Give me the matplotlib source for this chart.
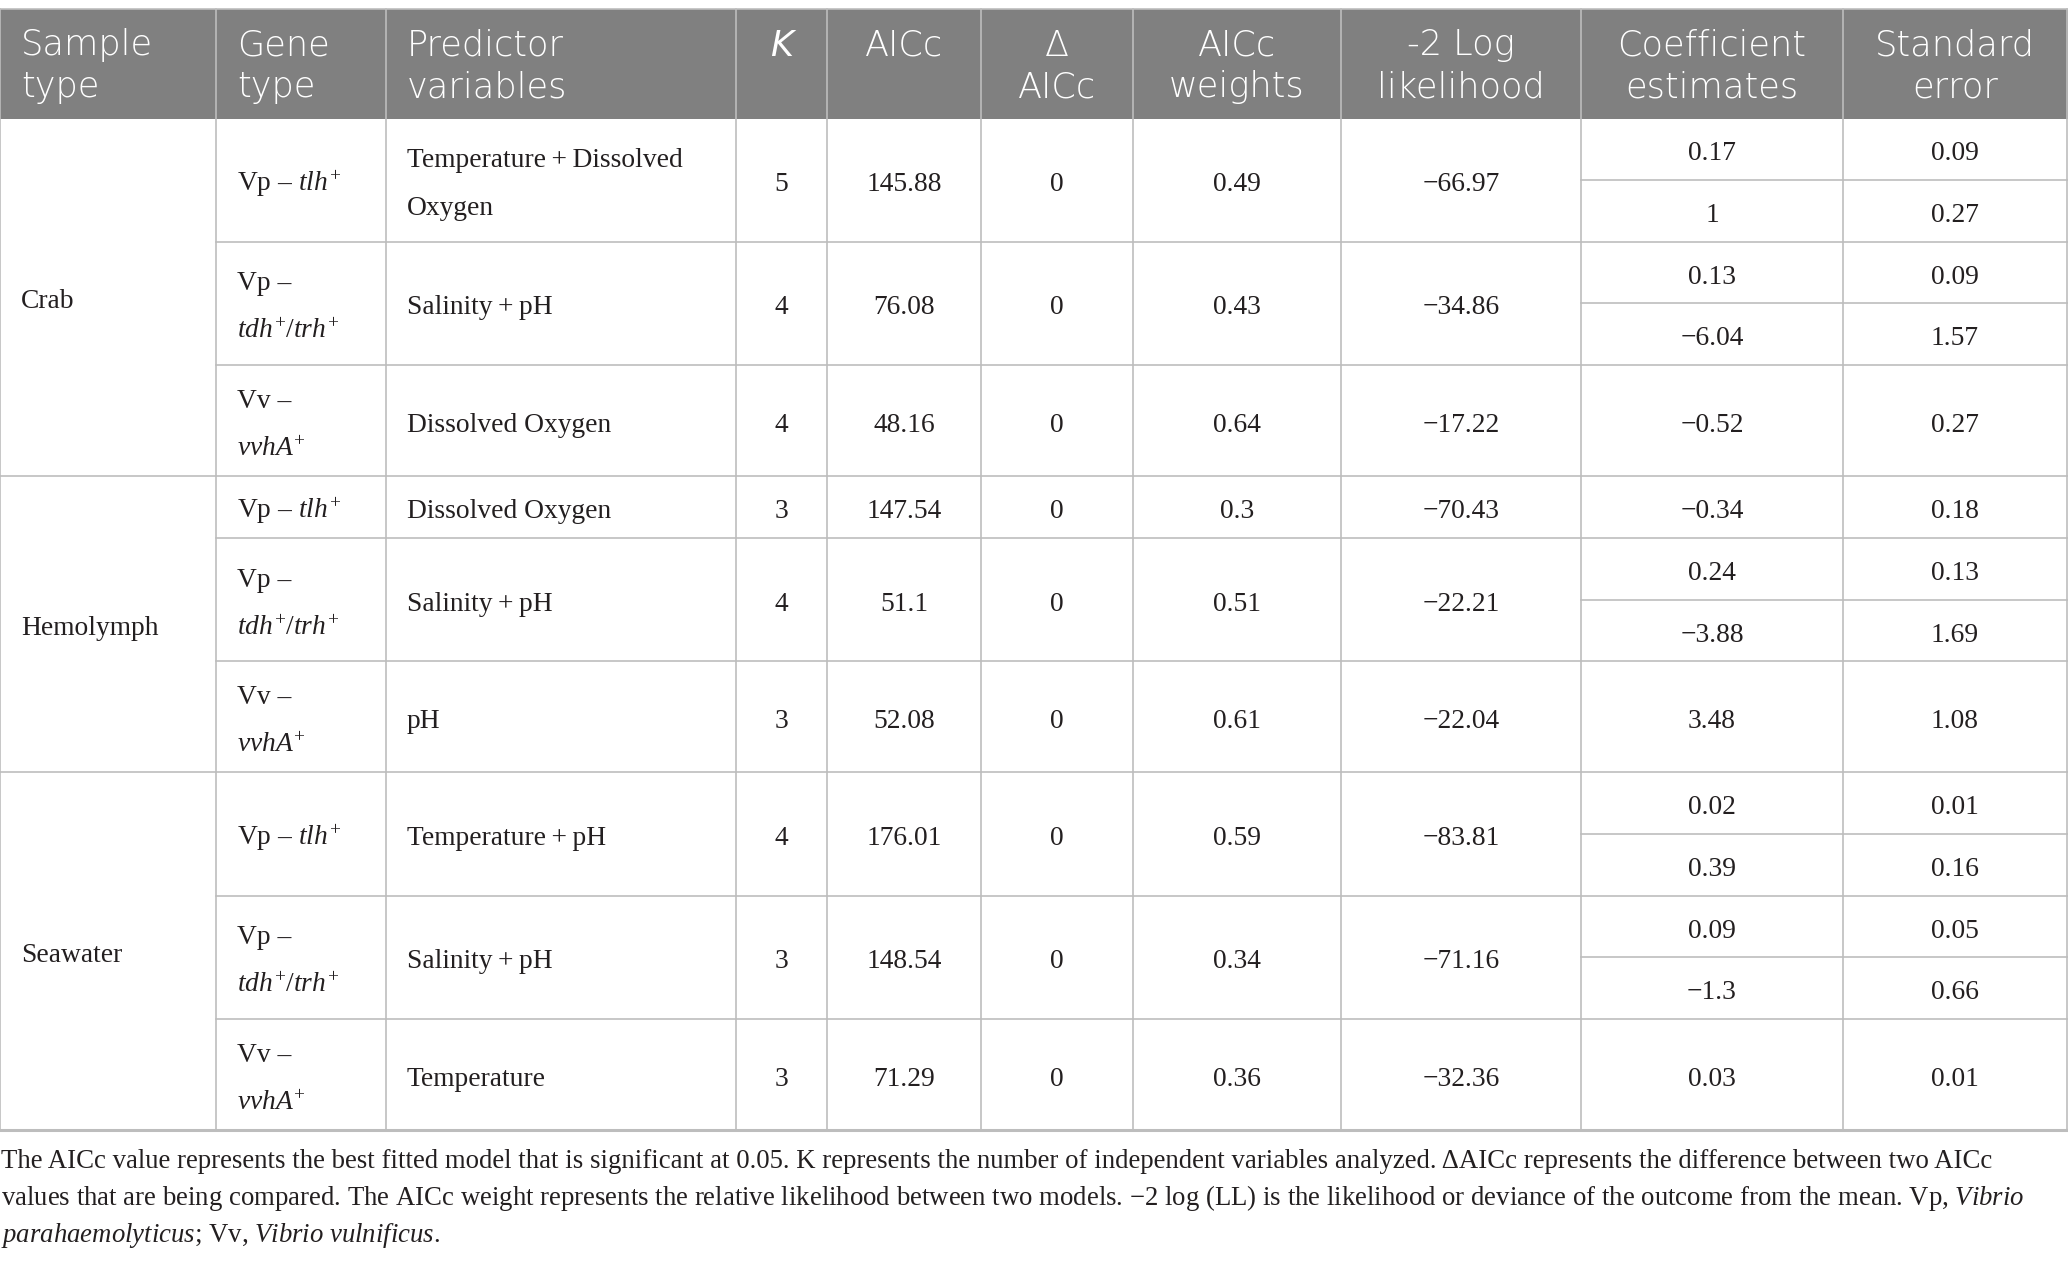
import matplotlib
matplotlib.use("Agg")
import matplotlib.pyplot as plt
from matplotlib.lines import Line2D
from matplotlib.patches import Rectangle

# ---------------- data ----------------
header_labels = ["Sample\ntype", "Gene\ntype", "Predictor\nvariables", "K", "AICc",
                 "Δ\nAICc", "AICc\nweights", "-2 Log\nlikelihood",
                 "Coefficient\nestimates", "Standard\nerror"]
sample_types = ["Crab", "Hemolymph", "Seawater"]
gene_types = ["Vp – $\\mathit{tlh}^{+}$",
              "Vp –\n$\\mathit{tdh}^{+}\\mathit{/trh}^{+}$",
              "Vv –\n$\\mathit{vvhA}^{+}$"]
predictors = ["Temperature\u2009+\u2009Dissolved\nOxygen", "Salinity\u2009+\u2009pH", "Dissolved Oxygen",
              "Dissolved Oxygen", "Salinity\u2009+\u2009pH", "pH",
              "Temperature\u2009+\u2009pH", "Salinity\u2009+\u2009pH", "Temperature"]
k_values = ["5", "4", "4", "3", "4", "3", "4", "3", "3"]
aicc = ["145.88", "76.08", "48.16", "147.54", "51.1", "52.08", "176.01", "148.54", "71.29"]
delta_aicc = ["0", "0", "0", "0", "0", "0", "0", "0", "0"]
aicc_weights = ["0.49", "0.43", "0.64", "0.3", "0.51", "0.61", "0.59", "0.34", "0.36"]
log_lik = ["−66.97", "−34.86", "−17.22", "−70.43", "−22.21", "−22.04", "−83.81", "−71.16", "−32.36"]
coef_est = [["0.17", "1"], ["0.13", "−6.04"], ["−0.52"], ["−0.34"], ["0.24", "−3.88"],
            ["3.48"], ["0.02", "0.39"], ["0.09", "−1.3"], ["0.03"]]
std_err = [["0.09", "0.27"], ["0.09", "1.57"], ["0.27"], ["0.18"], ["0.13", "1.69"],
           ["1.08"], ["0.01", "0.16"], ["0.05", "0.66"], ["0.01"]]
footnote_lines = [
    "The AICc value represents the best fitted model that is significant at 0.05. K represents the number of independent variables analyzed. ΔAICc represents the difference between two AICc",
    "values that are being compared. The AICc weight represents the relative likelihood between two models. −2 log (LL) is the likelihood or deviance of the outcome from the mean. Vp, $\\mathit{Vibrio}$",
    "$\\mathit{parahaemolyticus}$; Vv, $\\mathit{Vibrio\\ vulnificus}$.",
]

# ---------------- layout ----------------
W, H = 2068, 1262
plt.rcParams['mathtext.fontset'] = 'custom'
plt.rcParams['mathtext.rm'] = 'Liberation Serif'
plt.rcParams['mathtext.it'] = 'Liberation Serif:italic'

fig = plt.figure(figsize=(W / 100, H / 100), dpi=100)
ax = fig.add_axes([0, 0, 1, 1])
ax.set_xlim(0, W)
ax.set_ylim(H, 0)
ax.axis("off")

col_edges = [0, 216, 386, 736, 827, 981, 1133, 1341, 1581, 1843, 2067]
head_top, head_bot = 8.5, 118.5
pad = 21
body_color = "#231f20"
line_color = "#bdbdbd"
head_bg = "#808080"
serif = "Liberation Serif"
sans = "DejaVu Sans"
body_fs = 19.8
head_fs = 25.3
foot_fs = 19.3
line_gap = 48
base_off = 11

# row heights
n = len(predictors)
row_h = []
for i in range(n):
    if len(coef_est[i]) == 2:
        row_h.append(123.3)
    elif "\n" in gene_types[i % 3] or "\n" in predictors[i]:
        row_h.append(111)
    else:
        row_h.append(62)
row_top = [head_bot]
for h in row_h:
    row_top.append(row_top[-1] + h)

# header background
ax.add_patch(Rectangle((0, head_top), W, head_bot - head_top, facecolor=head_bg,
                       edgecolor="none", zorder=0))
ax.add_line(Line2D([0, W], [head_top, head_top], color=line_color, lw=1.2))
for x in col_edges:
    ax.add_line(Line2D([x, x], [head_top, row_top[-1]], color=line_color, lw=1.2, zorder=2))

# header text
for j, lab in enumerate(header_labels):
    lines = lab.split("\n")
    left = j < 3
    x = col_edges[j] + pad if left else (col_edges[j] + col_edges[j + 1]) / 2
    for k, ln in enumerate(lines):
        style = "italic" if lab == "K" else "normal"
        ax.text(x, head_top + 47 + 42 * k, ln, color="white", fontsize=head_fs,
                family=sans, fontweight="light", fontstyle=style,
                ha="left" if left else "center", va="baseline", zorder=3)


def cell(x, yc, txt, ha):
    lines = txt.split("\n")
    m = len(lines)
    for k, ln in enumerate(lines):
        yb = yc + base_off + (k - (m - 1) / 2) * line_gap
        ax.text(x, yb, ln, color=body_color, fontsize=body_fs, family=serif,
                ha=ha, va="baseline", zorder=3)


# body
for i in range(n):
    top, bot = row_top[i], row_top[i + 1]
    yc = (top + bot) / 2
    x0 = 0 if (i % 3 == 2) else col_edges[1]
    lw = 2.2 if i == n - 1 else 1.2
    ax.add_line(Line2D([x0, W], [bot, bot], color=line_color, lw=lw, zorder=2))
    cell(col_edges[1] + pad, yc, gene_types[i % 3], "left")
    cell(col_edges[2] + pad, yc, predictors[i], "left")
    for j, vals in zip(range(3, 8), [k_values, aicc, delta_aicc, aicc_weights, log_lik]):
        cell((col_edges[j] + col_edges[j + 1]) / 2, yc, vals[i], "center")
    subs = len(coef_est[i])
    if subs == 2:
        mid = (top + bot) / 2
        ax.add_line(Line2D([col_edges[8], W], [mid, mid], color=line_color, lw=1.2, zorder=2))
        centers = [(top + mid) / 2, (mid + bot) / 2]
    else:
        centers = [yc]
    for s in range(subs):
        cell((col_edges[8] + col_edges[9]) / 2, centers[s], coef_est[i][s], "center")
        cell((col_edges[9] + col_edges[10]) / 2, centers[s], std_err[i][s], "center")

# sample type labels
for g, name in enumerate(sample_types):
    yc = (row_top[3 * g] + row_top[3 * g + 3]) / 2
    cell(pad, yc, name, "left")

# footnote
for k, ln in enumerate(footnote_lines):
    ax.text(1, 1168 + 37 * k, ln, color=body_color, fontsize=foot_fs, family=serif,
            ha="left", va="baseline")

fig.savefig("out.png", dpi=100, facecolor="white")
